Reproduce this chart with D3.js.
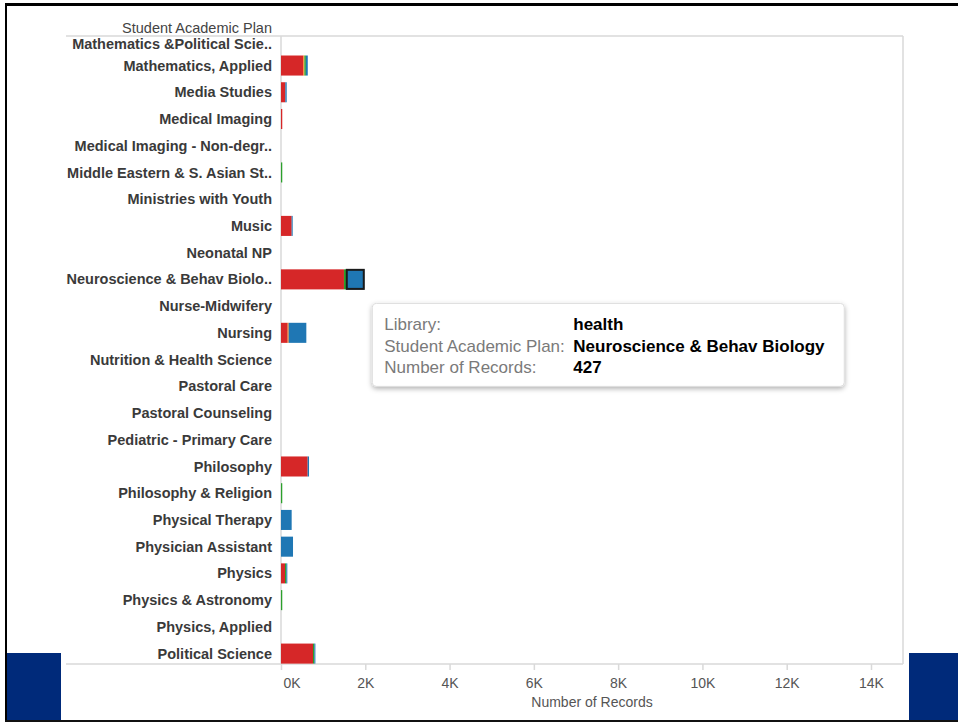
<!DOCTYPE html>
<html>
<head>
<meta charset="utf-8">
<script src="https://cdn.jsdelivr.net/npm/d3@7"></script>
<style>
  body { margin: 0; background: #fff; }
  svg { display: block; font-family: "Liberation Sans", Arial, sans-serif; }
</style>
</head>
<body>
<div id="chart"></div>
<script>
// Student Academic Plan vs Number of Records, stacked by library

var categories = [
  "Mathematics &Political Scie..", "Mathematics, Applied", "Media Studies",
  "Medical Imaging", "Medical Imaging - Non-degr..", "Middle Eastern & S. Asian St..",
  "Ministries with Youth", "Music", "Neonatal NP", "Neuroscience & Behav Biolo..",
  "Nurse-Midwifery", "Nursing", "Nutrition & Health Science", "Pastoral Care",
  "Pastoral Counseling", "Pediatric - Primary Care", "Philosophy",
  "Philosophy & Religion", "Physical Therapy", "Physician Assistant", "Physics",
  "Physics & Astronomy", "Physics, Applied", "Political Science"
];

var libraries = ["main", "business", "theology", "health"];
var libColors = ["#d62728", "#ff7f0e", "#2ca02c", "#1f77b4"];

// records per library, same order as categories
var mainRecords     = [0, 530, 103, 30, 0, 0, 0, 253, 0, 1494, 0, 158, 0, 0, 0, 0, 633, 0, 0, 0, 95, 0, 0, 759];
var businessRecords = [0, 25, 0, 0, 0, 0, 0, 0, 0, 0, 0, 24, 0, 0, 0, 0, 0, 0, 0, 0, 0, 0, 0, 0];
var theologyRecords = [0, 35, 0, 0, 0, 30, 0, 0, 0, 55, 0, 0, 0, 0, 0, 0, 0, 30, 0, 0, 30, 30, 0, 32];
var healthRecords   = [0, 45, 32, 0, 0, 0, 0, 24, 0, 427, 0, 419, 0, 0, 0, 0, 32, 0, 253, 285, 25, 0, 0, 25];

var xTicks = [0, 2000, 4000, 6000, 8000, 10000, 12000, 14000];

var selected = { plan: "Neuroscience & Behav Biology", cat: "Neuroscience & Behav Biolo..", lib: "health" };

var W = 958, H = 722;
var plot = { left: 281, right: 903, top: 36, bottom: 664 };

var svg = d3.select("#chart").append("svg")
  .attr("width", W).attr("height", H);

// slide frame
svg.append("rect").attr("x", 0).attr("y", 0).attr("width", W).attr("height", H).attr("fill", "#fff");
svg.append("rect").attr("x", 7).attr("y", 653).attr("width", 54).attr("height", 67).attr("fill", "#002a7a");
svg.append("rect").attr("x", 909).attr("y", 653).attr("width", 49).attr("height", 67).attr("fill", "#002a7a");
svg.append("rect").attr("x", 5).attr("y", 3).attr("width", W - 5).attr("height", 3).attr("fill", "#000");
svg.append("rect").attr("x", 5).attr("y", 3).attr("width", 2).attr("height", H - 3).attr("fill", "#000");
svg.append("rect").attr("x", 5).attr("y", 720).attr("width", W - 5).attr("height", 2).attr("fill", "#111");

var x = d3.scaleLinear().domain([0, 14000]).range([281, 871]);

var step = 26.73;
var y = d3.scaleBand()
  .domain(categories)
  .range([38.8 - step / 2, 38.8 - step / 2 + step * categories.length])
  .paddingInner(0.25).paddingOuter(0.125);

var table = categories.map(function(c, i) {
  return { cat: c, main: mainRecords[i], business: businessRecords[i],
           theology: theologyRecords[i], health: healthRecords[i] };
});
var series = d3.stack().keys(libraries)(table);
var color = d3.scaleOrdinal().domain(libraries).range(libColors);

svg.append("defs").append("clipPath").attr("id", "plotclip")
  .append("rect").attr("x", plot.left).attr("y", plot.top)
  .attr("width", plot.right - plot.left).attr("height", plot.bottom - plot.top);

// box lines
var lineCol = "#d9d9d9";
svg.append("line").attr("x1", 66).attr("x2", plot.right).attr("y1", plot.top).attr("y2", plot.top)
  .attr("stroke", lineCol).attr("stroke-width", 1.5);
svg.append("line").attr("x1", 66).attr("x2", plot.right).attr("y1", plot.bottom).attr("y2", plot.bottom)
  .attr("stroke", lineCol).attr("stroke-width", 1.5);
svg.append("line").attr("x1", plot.right).attr("x2", plot.right).attr("y1", plot.top).attr("y2", plot.bottom)
  .attr("stroke", lineCol).attr("stroke-width", 1.5);
svg.append("line").attr("x1", x(0)).attr("x2", x(0)).attr("y1", plot.top).attr("y2", plot.bottom)
  .attr("stroke", lineCol).attr("stroke-width", 1.5);

// bars
var bars = svg.append("g").attr("clip-path", "url(#plotclip)");
bars.selectAll("g")
  .data(series)
  .enter().append("g")
  .attr("fill", function(d) { return color(d.key); })
  .selectAll("rect")
  .data(function(d) { return d.map(function(p) { p.key = d.key; return p; }); })
  .enter().append("rect")
  .attr("x", function(d) { return x(d[0]); })
  .attr("y", function(d) { return y(d.data.cat); })
  .attr("width", function(d) { return Math.max(0, x(d[1]) - x(d[0])); })
  .attr("height", y.bandwidth());

// highlighted mark
var selSeries = series[libraries.indexOf(selected.lib)];
var selPoint = selSeries[categories.indexOf(selected.cat)];
svg.append("rect")
  .attr("x", x(selPoint[0]) + 0.5)
  .attr("y", y(selected.cat) + 0.5)
  .attr("width", x(selPoint[1]) - x(selPoint[0]) - 1)
  .attr("height", y.bandwidth() - 1)
  .attr("fill", "none").attr("stroke", "#1a1a1a").attr("stroke-width", 2);

// row labels
svg.append("g").selectAll("text")
  .data(categories)
  .enter().append("text")
  .attr("x", 272)
  .attr("y", function(d) { return Math.max(y(d) + y.bandwidth() / 2, 43.5); })
  .attr("dy", "0.35em")
  .attr("text-anchor", "end")
  .attr("font-size", "14.5px")
  .attr("font-weight", "bold")
  .attr("fill", "#3a3a3a")
  .text(function(d) { return d; });

svg.append("text")
  .attr("x", 272).attr("y", 28).attr("dy", "0.35em")
  .attr("text-anchor", "end")
  .attr("font-size", "14.5px").attr("fill", "#444")
  .text("Student Academic Plan");

// x axis
var axis = svg.append("g").attr("transform", "translate(0," + plot.bottom + ")")
  .call(d3.axisBottom(x).tickValues(xTicks).tickSize(6).tickSizeOuter(0)
    .tickFormat(function(d) { return (d / 1000) + "K"; }));
axis.select(".domain").remove();
axis.selectAll(".tick line").attr("stroke", lineCol).attr("stroke-width", 1.5);
axis.selectAll(".tick text")
  .attr("y", 19).attr("dy", "0.35em")
  .attr("font-size", "14px").attr("fill", "#555")
  .attr("font-family", "\"Liberation Sans\", Arial, sans-serif");
axis.selectAll(".tick text").filter(function(d) { return d === 0; })
  .attr("text-anchor", "start").attr("dx", 2);

svg.append("text")
  .attr("x", (plot.left + plot.right) / 2).attr("y", 702).attr("dy", "0.35em")
  .attr("text-anchor", "middle").attr("font-size", "14px").attr("fill", "#555")
  .text("Number of Records");

// tooltip
var filt = svg.select("defs").append("filter").attr("id", "shadow")
  .attr("x", "-10%").attr("y", "-20%").attr("width", "120%").attr("height", "150%");
filt.append("feDropShadow").attr("dx", 0).attr("dy", 2).attr("stdDeviation", 2.5)
  .attr("flood-color", "#000").attr("flood-opacity", 0.3);

var tipX = x(selPoint[1]) + 8;
var tipY = y(selected.cat) + y.bandwidth() / 2 + 24;
var tip = svg.append("g").attr("transform", "translate(" + tipX + "," + tipY + ")");
tip.append("rect").attr("width", 472).attr("height", 83).attr("rx", 4)
  .attr("fill", "#fff").attr("stroke", "#ddd").attr("filter", "url(#shadow)");

var tipRows = [
  ["Library:", selected.lib],
  ["Student Academic Plan:", selected.plan],
  ["Number of Records:", String(selPoint[1] - selPoint[0])]
];
tipRows.forEach(function(r, i) {
  tip.append("text").attr("x", 12).attr("y", 21 + i * 21.5).attr("dy", "0.35em")
    .attr("font-size", "17px").attr("fill", "#7a7a7a").text(r[0]);
  tip.append("text").attr("x", 201).attr("y", 21 + i * 21.5).attr("dy", "0.35em")
    .attr("font-size", "17px").attr("font-weight", "bold").attr("fill", "#000").text(r[1]);
});
</script>
</body>
</html>
